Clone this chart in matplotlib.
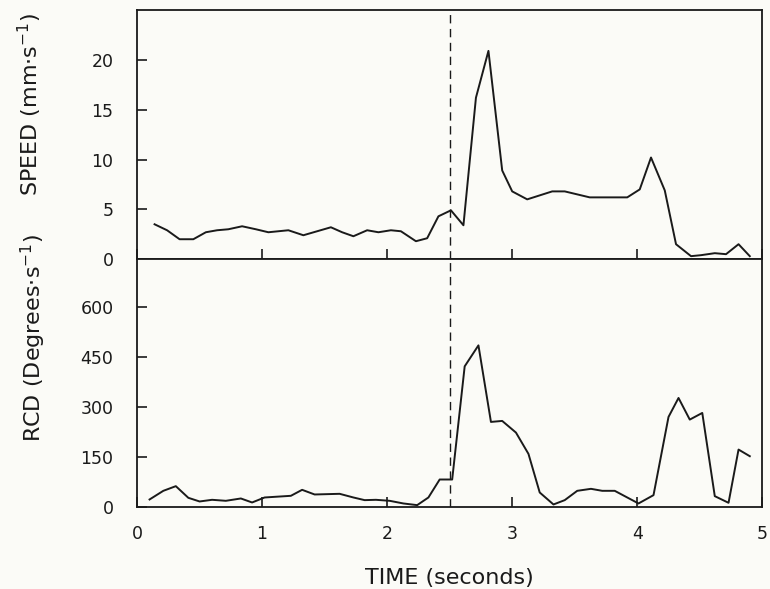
import matplotlib.pyplot as plt

# Speed trace (top panel)
speed_t = [0.14, 0.24, 0.34, 0.45, 0.55, 0.64, 0.73, 0.84, 0.95, 1.05,
           1.21, 1.33, 1.44, 1.55, 1.64, 1.73, 1.84, 1.93, 2.03, 2.11,
           2.23, 2.32, 2.41, 2.51, 2.61, 2.71, 2.81, 2.92, 3.00, 3.12,
           3.32, 3.42, 3.62, 3.92, 4.02, 4.11, 4.22, 4.31, 4.43, 4.51,
           4.62, 4.71, 4.81, 4.90]
speed = [3.5, 2.9, 2.0, 2.0, 2.7, 2.9, 3.0, 3.3, 3.0, 2.7,
         2.9, 2.4, 2.8, 3.2, 2.7, 2.3, 2.9, 2.7, 2.9, 2.8,
         1.8, 2.1, 4.3, 4.9, 3.4, 16.2, 20.9, 8.9, 6.8, 6.0,
         6.8, 6.8, 6.2, 6.2, 7.0, 10.2, 6.9, 1.5, 0.3, 0.4,
         0.6, 0.5, 1.5, 0.3]

# RCD trace (bottom panel)
rcd_t = [0.10, 0.21, 0.31, 0.41, 0.50, 0.60, 0.71, 0.83, 0.92, 1.02,
         1.23, 1.32, 1.42, 1.62, 1.73, 1.82, 1.91, 2.02, 2.13, 2.24,
         2.33, 2.42, 2.52, 2.62, 2.73, 2.83, 2.92, 3.03, 3.13, 3.22,
         3.33, 3.42, 3.52, 3.63, 3.72, 3.82, 3.91, 4.01, 4.13, 4.25,
         4.33, 4.42, 4.52, 4.62, 4.73, 4.81, 4.90]
rcd = [23, 49, 63, 28, 17, 22, 19, 26, 14, 29,
       34, 52, 38, 40, 29, 21, 22, 19, 11, 6,
       29, 83, 83, 423, 486, 256, 259, 224, 160, 44,
       8, 21, 49, 55, 49, 49, 31, 11, 36, 271,
       328, 263, 283, 33, 13, 173, 153]

speed_ticks = [0, 5, 10, 15, 20]
rcd_ticks = [0, 150, 300, 450, 600]
time_ticks = [0, 1, 2, 3, 4, 5]
event_time = 2.5

bg = '#fbfbf7'
ink = '#1a1a1a'

fig = plt.figure(figsize=(7.7, 5.89), dpi=100, facecolor=bg)
ax1 = fig.add_axes([0.178, 0.560, 0.812, 0.423], facecolor=bg)
ax2 = fig.add_axes([0.178, 0.139, 0.812, 0.421], facecolor=bg)

ax1.plot(speed_t, speed, color=ink, lw=1.4)
ax2.plot(rcd_t, rcd, color=ink, lw=1.4)

for ax in (ax1, ax2):
    ax.axvline(event_time, color=ink, lw=1.0, ls=(0, (6, 4)))
    ax.set_xlim(0, 5)
    ax.set_xticks(time_ticks)
    ax.tick_params(direction='in', length=7, width=1.2, colors=ink,
                   labelsize=12.5)
    ax.tick_params(axis='y', pad=17)
    ax.tick_params(axis='x', pad=13)
    for s in ax.spines.values():
        s.set_color(ink)
        s.set_linewidth(1.3)

ax1.set_ylim(0, 25)
ax1.set_yticks(speed_ticks)
ax1.tick_params(axis='x', labelbottom=False)

ax2.set_ylim(0, 745)
ax2.set_yticks(rcd_ticks)
ax2.set_xlabel('TIME (seconds)', fontsize=16, color=ink, labelpad=18)

# y labels sit off-centre in the original, so place them by hand
fig.text(30 / 770, 1 - 104 / 589, 'SPEED (mm$\\cdot$s$^{-1}$)', rotation=90,
         ha='center', va='center', fontsize=16, color=ink)
fig.text(33 / 770, 1 - 338 / 589, 'RCD (Degrees$\\cdot$s$^{-1}$)', rotation=90,
         ha='center', va='center', fontsize=16, color=ink)

fig.savefig('out.png', dpi=100, facecolor=bg)
